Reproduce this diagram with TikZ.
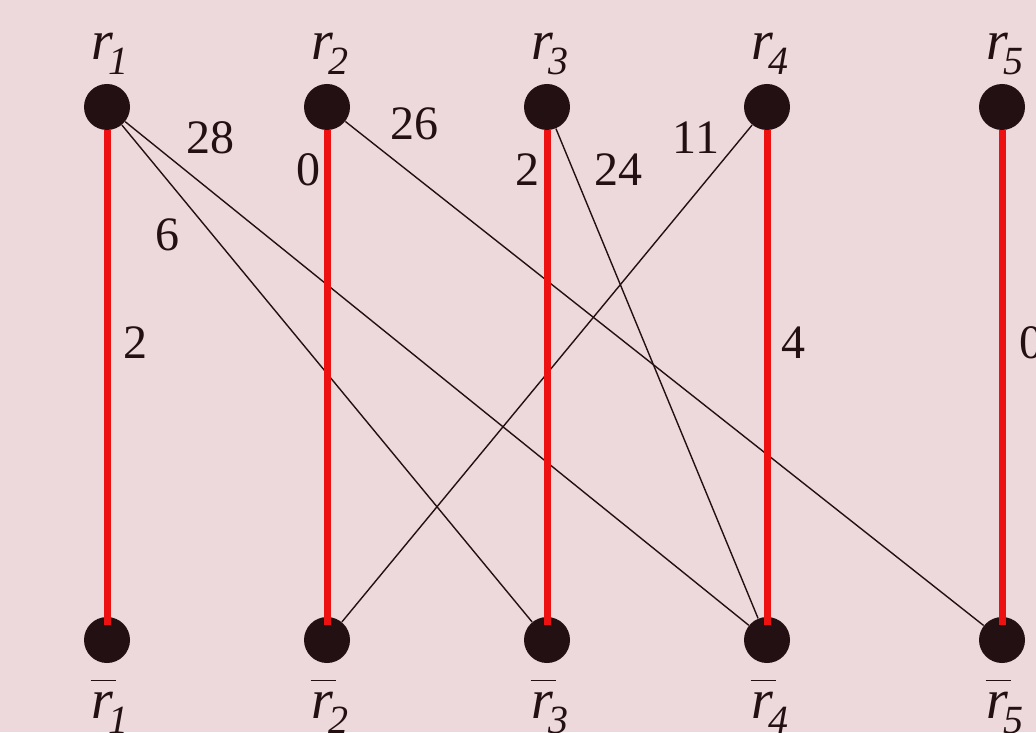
\documentclass[tikz,border=0pt]{standalone}
\usepackage{fontspec}
\setmainfont{Liberation Serif}
\definecolor{bg}{RGB}{237,217,220}
\definecolor{ink}{RGB}{35,16,18}
\definecolor{redl}{RGB}{238,17,17}
\newcommand{\rsub}[1]{\fontsize{28}{28}\selectfont\textit{r}\kern-2.5pt\raisebox{-7.5pt}{\fontsize{20}{20}\selectfont\textit{#1}}}
\newcommand{\rbar}[1]{\makebox[0pt][l]{\kern-0.5pt\raisebox{18.5pt}{\color{ink}\rule{12.5pt}{0.7pt}}}\rsub{#1}}
\begin{document}
\begin{tikzpicture}[x=0.5pt,y=-0.5pt,
  vert/.style={circle,fill=ink,minimum size=23pt,inner sep=0pt},
  vlbl/.style={anchor=base,text=ink,inner sep=0pt},
  wlbl/.style={text=ink,inner sep=0pt,font=\fontsize{24}{24}\selectfont},
  edge/.style={draw=ink,line width=0.7pt},
  match/.style={draw=redl,line width=3.5pt,shorten >=-4pt}]
\fill[bg] (0,0) rectangle (1036,732);
\useasboundingbox (0,0) rectangle (1036,732);
% vertices
\node[vert] (r1) at (107,107) {};
\node[vert] (r2) at (327,107) {};
\node[vert] (r3) at (547,107) {};
\node[vert] (r4) at (767,107) {};
\node[vert] (r5) at (1002,107) {};
\node[vert] (rb1) at (107,640) {};
\node[vert] (rb2) at (327,640) {};
\node[vert] (rb3) at (547,640) {};
\node[vert] (rb4) at (767,640) {};
\node[vert] (rb5) at (1002,640) {};
% vertex labels
\node[vlbl] (t1) at (110,60) {\rsub{1}};
\node[vlbl] (t2) at (330,60) {\rsub{2}};
\node[vlbl] (t3) at (550,60) {\rsub{3}};
\node[vlbl] (t4) at (770,60) {\rsub{4}};
\node[vlbl] (t5) at (1005,60) {\rsub{5}};
\node[vlbl] (b1) at (110,718) {\rbar{1}};
\node[vlbl] (b2) at (330,718) {\rbar{2}};
\node[vlbl] (b3) at (550,718) {\rbar{3}};
\node[vlbl] (b4) at (770,718) {\rbar{4}};
\node[vlbl] (b5) at (1005,718) {\rbar{5}};
% thin edges
\draw[edge] (r1) -- (rb3);
\draw[edge] (r1) -- (rb4);
\draw[edge] (r2) -- (rb5);
\draw[edge] (r3) -- (rb4);
\draw[edge] (r4) -- (rb2);
% matching edges
\draw[match] (r1.south) -- (rb1.north);
\draw[match] (r2.south) -- (rb2.north);
\draw[match] (r3.south) -- (rb3.north);
\draw[match] (r4.south) -- (rb4.north);
\draw[match] (r5.south) -- (rb5.north);
% weights
\node[wlbl] (w11) at (135,343) {2};
\node[wlbl] (w22) at (308,170) {0};
\node[wlbl] (w33) at (527,170) {2};
\node[wlbl] (w44) at (793,343) {4};
\node[wlbl] (w55) at (1031,343) {0};
\node[wlbl] (w13) at (167,235) {6};
\node[wlbl] (w14) at (210,138) {28};
\node[wlbl] (w25) at (414,124) {26};
\node[wlbl] (w34) at (618,170) {24};
\node[wlbl] (w42) at (696,138) {11};
\end{tikzpicture}
\end{document}
